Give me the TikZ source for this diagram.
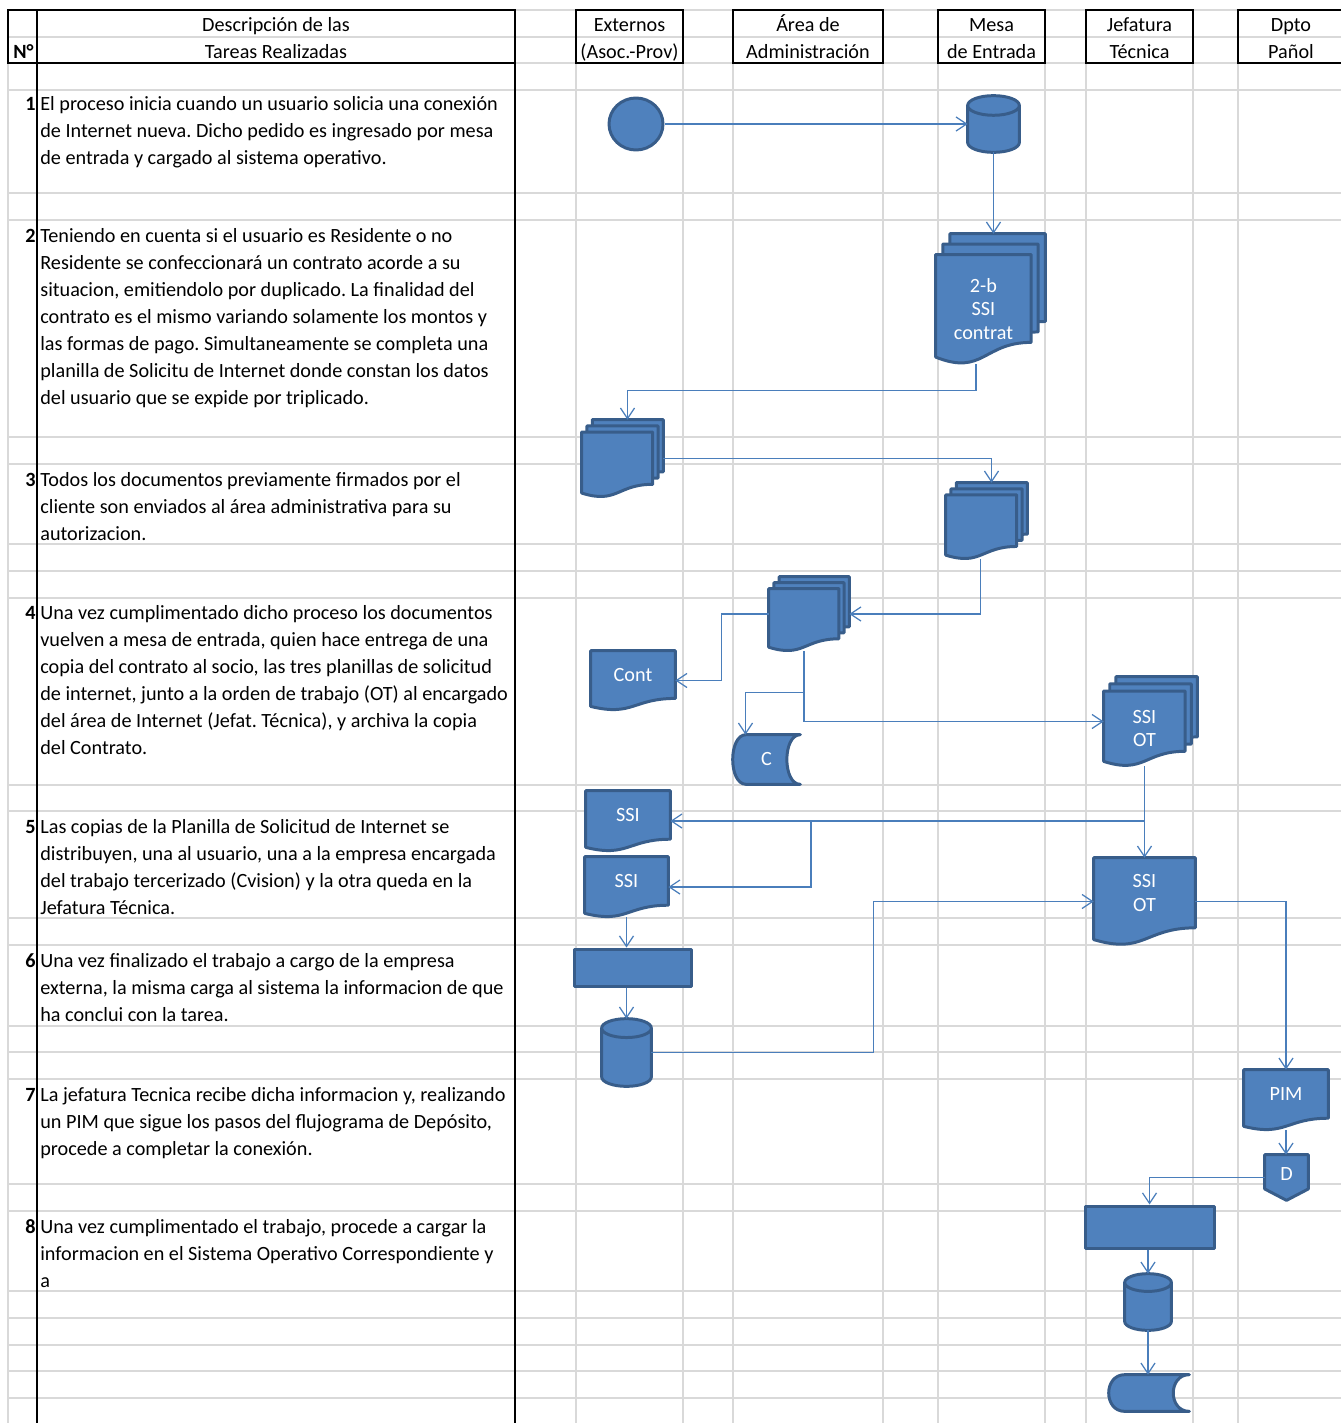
\documentclass[tikz,border=0pt]{standalone}
\usepackage{fontspec}
\setmainfont{Carlito}
\frenchspacing
\usetikzlibrary{arrows.meta,calc,shapes.geometric}

\definecolor{shpfill}{HTML}{4F81BD}
\definecolor{shpedge}{HTML}{385D8A}
\definecolor{linkblue}{HTML}{4A7EBB}
\definecolor{gridgray}{HTML}{D9D9D9}

\tikzset{gridl/.style={draw=gridgray,line width=1.1pt}}
\tikzset{blk/.style={draw=black,line width=1.4pt}}
\tikzset{shp/.style={fill=shpfill,draw=shpedge,line width=1.7pt,line join=round}}
\tikzset{hold/.style 2 args={inner sep=0pt,minimum width=#1*0.02cm,minimum height=#2*0.02cm}}
\tikzset{flow/.style={draw=linkblue,line width=0.7pt,-{Straight Barb[length=6pt,width=8pt]}}}
\tikzset{desc/.style={anchor=base west,align=left,inner sep=0pt,font=\fontsize{11.5}{15.3}\selectfont}}
\tikzset{num/.style={anchor=base east,inner sep=0pt,font=\fontsize{11.5}{15.3}\selectfont\bfseries}}
\tikzset{head/.style={anchor=base,inner sep=0pt,font=\fontsize{11.5}{15.3}\selectfont}}
\tikzset{wtext/.style={text=white,align=center,inner sep=0pt,font=\fontsize{11.5}{13.6}\selectfont}}

% document page, k = 0 front, 1 and 2 behind
\newcommand\pagedoc[4]{%
  \path[shp] let \p1=(#1.north west), \p2=(#1.south east),
    \p3=({\x1+#2*#3*(\x2-\x1)},{\y1-(2-#2)*#4*(\y1-\y2)}),
    \p4=({\x2-(2-#2)*#3*(\x2-\x1)},{\y2+#2*#4*(\y1-\y2)}) in
    (\x3,\y3) -- (\x4,\y3) -- (\x4,{\y3+0.8*(\y4-\y3)})
    .. controls ({0.5*(\x3+\x4)},{\y3+0.8*(\y4-\y3)}) and ({0.5*(\x3+\x4)},{\y3+1.107*(\y4-\y3)})
    .. (\x3,{\y3+0.934*(\y4-\y3)}) -- cycle;}
\newcommand\docshape[1]{\pagedoc{#1}{0}{0}{0}}
\newcommand\multidoc[1]{\pagedoc{#1}{2}{0.065}{0.08}\pagedoc{#1}{1}{0.065}{0.08}\pagedoc{#1}{0}{0.065}{0.08}}
\newcommand\dbshape[1]{%
  \path[shp] let \p1=(#1.north west), \p2=(#1.south east), \n1={0.5*(\x2-\x1)}, \n2={0.19*(\x2-\x1)} in
    (\x1,{\y1-\n2}) -- (\x1,{\y2+\n2}) arc[start angle=180,end angle=360,x radius=\n1,y radius=\n2]
    -- (\x2,{\y1-\n2}) arc[start angle=0,end angle=180,x radius=\n1,y radius=\n2] -- cycle
    (\x1,{\y1-\n2}) arc[start angle=180,end angle=360,x radius=\n1,y radius=\n2];}
\newcommand\storeshape[1]{%
  \path[shp] let \p1=(#1.north west), \p2=(#1.south east), \n1={0.2*(\x2-\x1)} in
    ({\x1+\n1},\y1) -- (\x2,\y1) .. controls ({\x2-1.33*\n1},\y1) and ({\x2-1.33*\n1},\y2) .. (\x2,\y2)
    -- ({\x1+\n1},\y2) .. controls ({\x1-0.33*\n1},\y2) and ({\x1-0.33*\n1},\y1) .. cycle;}
\newcommand\offshape[1]{%
  \path[shp] let \p1=(#1.north west), \p2=(#1.south east) in
    (\x1,\y1) -- (\x2,\y1) -- (\x2,{\y1+0.75*(\y2-\y1)}) -- ({0.5*(\x1+\x2)},\y2) -- (\x1,{\y1+0.75*(\y2-\y1)}) -- cycle;}

\begin{document}
\begin{tikzpicture}[x=0.02cm,y=-0.02cm]
\useasboundingbox (0,0) rectangle (1341,1423);

% sheet grid
\foreach \gy in {10,37,63,90,193,220,437,464,544,571,598,785,811,918,945,1026,1052,1079,1184,1211,1291,1318,1345,1371,1398}
  \draw[gridl] (8,\gy) -- (1341,\gy);
\foreach \gx in {8,576,683,733,883,938,1045,1086,1193,1238}
  \draw[gridl] (\gx,10) -- (\gx,1423);

% header
\draw[blk] (8,10) rectangle (515,63);
\draw[blk] (37,10) -- (37,1423);
\draw[blk] (515,10) -- (515,1423);
\foreach \xa/\xb in {576/683,733/883,938/1045,1086/1193,1238/1350}
  \draw[blk] (\xa,10) rectangle (\xb,63);
\node[num] (hnum) at (34,58) {N°};
\node[head] (hdesc1) at (276,31.5) {Descripción de las};
\node[head] (hdesc2) at (276,58) {Tareas Realizadas};
\foreach \cx/\la/\lb/\nm in {629.5/Externos/(Asoc.-Prov)/ext,808/Área de/Administración/adm,
    991.5/Mesa/de Entrada/mesa,1139.5/Jefatura/Técnica/jef,1291/Dpto/Pañol/dpto} {
  \node[head] (h\nm a) at (\cx,31.5) {\la};
  \node[head] (h\nm b) at (\cx,58) {\lb};
}

% tasks (base anchor sits on the last line)
\node[num] (n1) at (36,110) {1};
\node[desc] (t1) at (40,164) {El proceso inicia cuando un usuario solicia una conexión\\de Internet nueva. Dicho pedido es ingresado por mesa\\de entrada y cargado al sistema operativo.};
\node[num] (n2) at (36,242) {2};
\node[desc] (t2) at (40,404) {Teniendo en cuenta si el usuario es Residente o no\\Residente se confeccionará un contrato acorde a su\\situacion, emitiendolo por duplicado. La finalidad del\\contrato es el mismo variando solamente los montos y\\las formas de pago. Simultaneamente se completa una\\planilla de Solicitu de Internet donde constan los datos\\del usuario que se expide por triplicado.};
\node[num] (n3) at (36,486) {3};
\node[desc] (t3) at (40,540) {Todos los documentos previamente firmados por el\\cliente son enviados al área administrativa para su\\autorizacion.};
\node[num] (n4) at (36,619) {4};
\node[desc] (t4) at (40,754) {Una vez cumplimentado dicho proceso los documentos\\vuelven a mesa de entrada, quien hace entrega de una\\copia del contrato al socio, las tres planillas de solicitud\\de internet, junto a la orden de trabajo (OT) al encargado\\del área de Internet (Jefat. Técnica), y archiva la copia\\del Contrato.};
\node[num] (n5) at (36,833) {5};
\node[desc] (t5) at (40,914) {Las copias de la Planilla de Solicitud de Internet se\\distribuyen, una al usuario, una a la empresa encargada\\del trabajo tercerizado (Cvision) y la otra queda en la\\Jefatura Técnica.};
\node[num] (n6) at (36,967) {6};
\node[desc] (t6) at (40,1021) {Una vez finalizado el trabajo a cargo de la empresa\\externa, la misma carga al sistema la informacion de que\\ha conclui con la tarea.};
\node[num] (n7) at (36,1101) {7};
\node[desc] (t7) at (40,1155) {La jefatura Tecnica recibe dicha informacion y, realizando\\un PIM que sigue los pasos del flujograma de Depósito,\\procede a completar la conexión.};
\node[num] (n8) at (36,1233) {8};
\node[desc] (t8) at (40,1287) {Una vez cumplimentado el trabajo, procede a cargar la\\informacion en el Sistema Operativo Correspondiente y\\a};

% flow symbols
\node[shp,ellipse,hold={54}{52}] (start) at (636,124) {};
\node[hold={51}{56}] (db1) at (993.5,124) {};
\node[hold={109}{130}] (md1) at (990.5,299) {};
\node[hold={81}{77}] (md2) at (622.5,458.5) {};
\node[hold={81}{76}] (md3) at (986.5,521) {};
\node[hold={80}{74}] (md4) at (809,614) {};
\node[hold={84}{59}] (cont) at (633,680.5) {};
\node[hold={67}{49}] (cstore) at (766.5,759.5) {};
\node[hold={93}{89}] (md5) at (1150.5,721.5) {};
\node[hold={84}{60}] (ssi1) at (628,821) {};
\node[hold={83}{60}] (ssi2) at (626.5,887) {};
\node[hold={101}{87}] (ssiot) at (1144.5,901.5) {};
\node[shp,rectangle,hold={117}{37}] (proc1) at (632.5,967.5) {};
\node[hold={49}{67}] (db2) at (626.5,1052.5) {};
\node[hold={84}{60}] (pim) at (1286,1100) {};
\node[hold={43}{45}] (off) at (1286.5,1177.5) {};
\node[shp,rectangle,hold={129}{42}] (proc2) at (1149.5,1227) {};
\node[hold={46}{56}] (db3) at (1148,1302) {};
\node[hold={80}{36}] (store2) at (1149,1393) {};

\dbshape{db1}
\multidoc{md1}
\multidoc{md2}
\multidoc{md3}
\multidoc{md4}
\docshape{cont}
\storeshape{cstore}
\multidoc{md5}
\docshape{ssi1}
\docshape{ssi2}
\docshape{ssiot}
\dbshape{db2}
\docshape{pim}
\offshape{off}
\dbshape{db3}
\storeshape{store2}

\node[wtext] (md1-t) at ($(md1.center)+(-7,10)$) {2-b\\SSI\\contrat};
\node[wtext] (md5-t) at ($(md5.center)+(-6,7)$) {SSI\\OT};
\node[wtext] (cont-t) at ($(cont.north)!0.4!(cont.south)$) {Cont};
\node[wtext] (cstore-t) at (cstore.center) {C};
\node[wtext] (ssi1-t) at ($(ssi1.north)!0.4!(ssi1.south)$) {SSI};
\node[wtext] (ssi2-t) at ($(ssi2.north)!0.4!(ssi2.south)$) {SSI};
\node[wtext] (ssiot-t) at ($(ssiot.north)!0.4!(ssiot.south)$) {SSI\\OT};
\node[wtext] (pim-t) at ($(pim.north)!0.4!(pim.south)$) {PIM};
\node[wtext] (off-t) at ($(off.north)!0.42!(off.south)$) {D};

% connectors
\coordinate (ssisplit) at (811,821);
\draw[flow] (start.east) -- (start.east -| db1.west);
\draw[flow] (db1.south) -- (db1.south |- md1.north);
\draw[flow] ($(md1.south)+(-14.5,0)$) -- ++(0,26) -| ($(md2.north)+(5,0)$);
\draw[flow] (md2.east) -| ($(md3.north)+(5,0)$);
\draw[flow] ($(md3.south)+(-6,0)$) |- (md4.east);
\draw[flow] (md4.west) -- ++(-47,0) |- (cont.east);
\draw[flow] ($(md4.south)+(-5,0)$) -- ++(0,41) -| ($(cstore.north)+(-21,0)$);
\draw[flow] ($(md4.south)+(-5,0)$) |- (md5.west);
\draw[flow] (md5.south -| ssiot.north) -- (ssiot.north);
\draw[flow] (ssiot.north |- ssi1.east) -- (ssi1.east);
\draw[flow] (ssisplit) |- (ssi2.east);
\draw[flow] (ssi2.south) -- (ssi2.south |- proc1.north);
\draw[flow] (proc1.south -| db2.north) -- (db2.north);
\draw[flow] (db2.east) -- ++(222,0) |- (ssiot.west);
\draw[flow] (ssiot.east) -| (pim.north);
\draw[flow] (pim.south) -- (pim.south |- off.north);
\draw[flow] (off.west) -| (proc2.north);
\draw[flow] (proc2.south -| db3.north) -- (db3.north);
\draw[flow] (db3.south) -- (db3.south |- store2.north);
\end{tikzpicture}
\end{document}
